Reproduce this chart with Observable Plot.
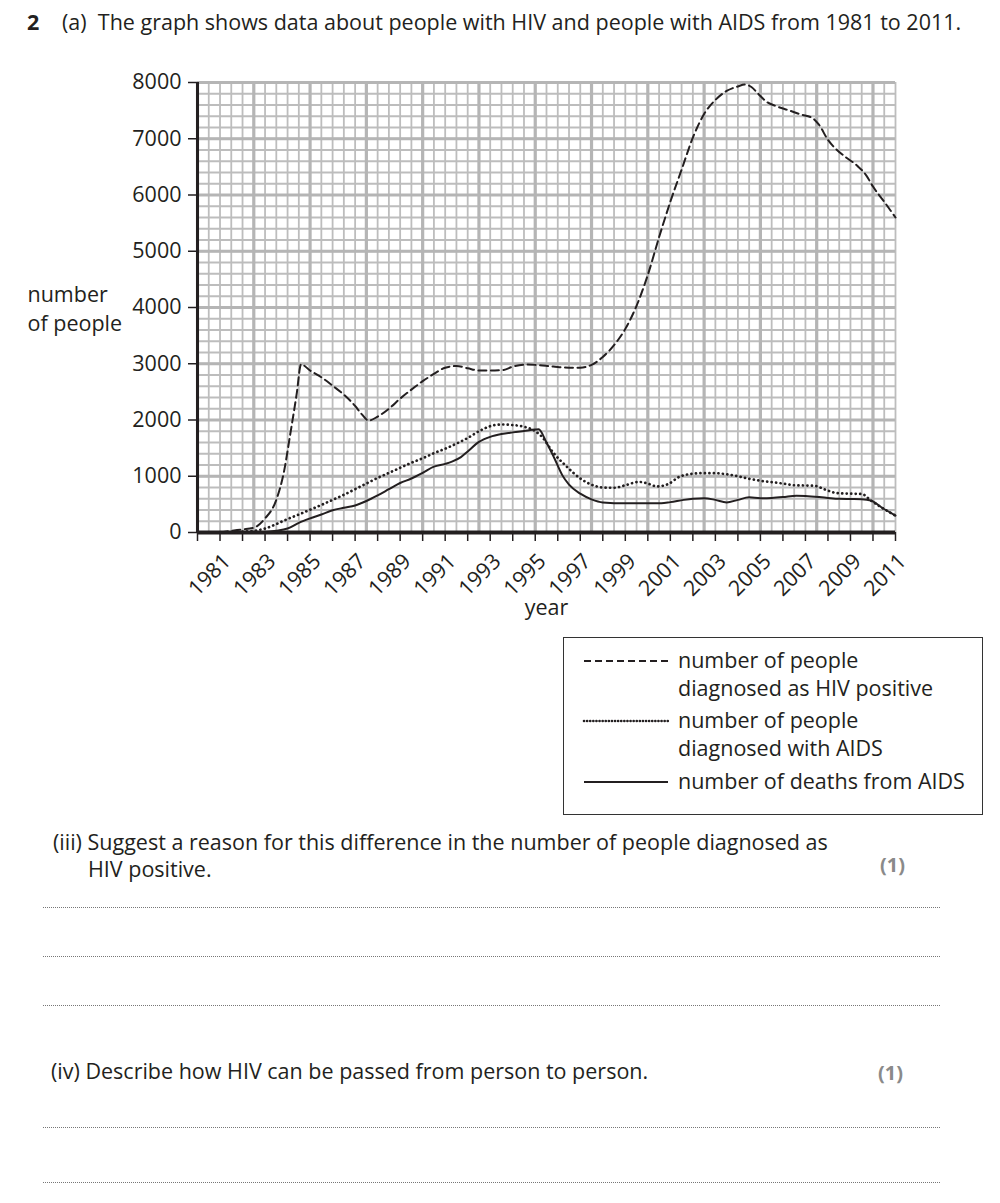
<!DOCTYPE html>
<html>
<head>
<meta charset="utf-8">
<script src="https://cdn.jsdelivr.net/npm/d3@7"></script>
<script src="https://cdn.jsdelivr.net/npm/@observablehq/plot@0.6"></script>
<style>
  html, body { margin: 0; padding: 0; background: #fff; }
  body { width: 1000px; height: 1203px; position: relative; overflow: hidden;
         font-family: "Open Sans", "Noto Sans", sans-serif; color: #231f20; }
  .abs { position: absolute; white-space: nowrap; font-size: 21.5px; line-height: 1; }
  #chart { position: absolute; left: 0; top: 0; }
  #legend { position: absolute; left: 563px; top: 637px; width: 418px; height: 176px;
            border: 1.5px solid #333; }
  .dots { position: absolute; height: 0; border-top: 1.5px dotted #777; }
  .mark { color: #8a8a8a; font-weight: bold; font-size: 20px; }
</style>
</head>
<body>
<div class="abs" style="left:27px; top:11px;"><b>2</b></div>
<div class="abs" style="left:62px; top:11px;">(a)&nbsp; The graph shows data about people with HIV and people with AIDS from 1981 to 2011.</div>
<div id="chart"></div>
<div id="legend"></div>

<div class="abs" style="left:53px; top:831px;">(iii) Suggest a reason for this difference in the number of people diagnosed as</div>
<div class="abs" style="left:88px; top:858px;">HIV positive.</div>
<div class="abs mark" style="left:880px; top:855px;">(1)</div>
<div class="dots" style="left:43px; width:897px; top:907px;"></div>
<div class="dots" style="left:43px; width:897px; top:956px;"></div>
<div class="dots" style="left:43px; width:897px; top:1005px;"></div>
<div class="abs" style="left:51px; top:1060px;">(iv) Describe how HIV can be passed from person to person.</div>
<div class="abs mark" style="left:878px; top:1063px;">(1)</div>
<div class="dots" style="left:43px; width:897px; top:1127px;"></div>
<div class="dots" style="left:43px; width:897px; top:1182px;"></div>

<script>
// ---------- data ----------
const hivYear = [1981,1981.5,1982,1982.5,1983,1983.5,1983.85,1984.1,1984.4,1984.6,1985,1985.5,1986,1986.5,1987,1987.3,1987.6,1988,1988.5,1989,1989.5,1990,1990.5,1991,1991.5,1992,1992.5,1993,1993.6,1994,1994.6,1995,1995.8,1996.5,1997,1997.5,1998,1998.5,1999,1999.5,2000,2000.5,2001,2001.5,2002,2002.5,2003,2003.5,2004,2004.3,2004.6,2004.9,2005.3,2005.7,2006.3,2006.8,2007.3,2007.6,2008,2008.4,2008.8,2009.3,2009.7,2010,2010.5,2011];
const hivValue = [0,30,55,85,250,580,1100,1700,2450,2990,2880,2760,2610,2450,2250,2100,1990,2060,2200,2380,2540,2690,2820,2930,2960,2920,2880,2880,2890,2950,2985,2980,2950,2930,2930,2980,3120,3330,3620,4030,4580,5250,5880,6450,7020,7440,7690,7850,7930,7965,7920,7800,7650,7580,7500,7430,7370,7250,6980,6800,6670,6520,6350,6150,5880,5600];

const aidsYear = [1981,1982,1982.5,1983,1983.5,1984,1984.5,1985,1985.5,1986,1986.5,1987,1987.5,1988,1988.5,1989,1989.5,1990,1990.5,1991,1991.5,1992,1992.5,1993,1993.5,1994,1994.5,1995,1995.3,1995.8,1996.4,1997,1997.5,1998,1998.5,1999,1999.6,2000,2000.4,2000.9,2001.4,2001.9,2002.5,2003,2003.5,2004,2004.5,2005,2005.5,2006,2006.5,2007,2007.4,2007.9,2008.4,2009,2009.5,2009.9,2010.4,2011];
const aidsValue = [0,15,30,70,150,240,320,405,490,580,670,770,870,970,1060,1150,1240,1320,1410,1490,1580,1680,1800,1890,1920,1910,1880,1800,1700,1420,1170,960,850,800,795,840,900,870,820,860,990,1040,1055,1055,1035,1000,955,920,895,870,840,835,830,760,700,690,685,570,440,300];

const deathYear = [1981,1982,1983,1983.5,1984,1984.5,1985,1985.5,1986,1986.5,1987,1987.5,1988,1988.5,1989,1989.5,1990,1990.5,1991,1991.3,1991.7,1992,1992.5,1993,1993.5,1994,1994.5,1995,1995.15,1995.5,1995.85,1996.2,1996.5,1997,1997.5,1998,1999,2000,2000.6,2001,2001.6,2002,2002.5,2003,2003.5,2004,2004.5,2005,2005.5,2006,2006.6,2007,2008,2008.5,2009,2009.5,2009.9,2010.4,2011];
const deathValue = [0,5,10,30,70,170,250,320,395,440,480,560,660,770,880,960,1060,1170,1220,1260,1340,1440,1610,1700,1750,1780,1805,1830,1835,1600,1320,1020,850,690,590,535,520,520,520,540,580,600,610,580,535,580,625,610,615,630,655,650,615,600,595,590,570,440,300];

const yTicks = [0,1000,2000,3000,4000,5000,6000,7000,8000];
const xTickYears = d3.range(1980, 2012, 1);
const xLabelYears = [1981,1983,1985,1987,1989,1991,1993,1995,1997,1999,2001,2003,2005,2007,2009,2011];

const seriesNames = ["number of people diagnosed as HIV positive", "number of people diagnosed with AIDS", "number of deaths from AIDS"];

// ---------- build tables ----------
const hiv = hivYear.map((x, i) => ({x, y: hivValue[i]}));
const aids = aidsYear.map((x, i) => ({x, y: aidsValue[i]}));
const deaths = deathYear.map((x, i) => ({x, y: deathValue[i]}));

const minorX = d3.range(1980, 2011.01, 0.5);
const majorX = d3.range(1980, 2011.01, 2.5);
const minorY = d3.range(0, 8001, 200);
const majorY = d3.range(0, 8001, 1000);

const gridMinor = "#bdbdbd";
const gridMajor = "#b5b5b5";
const ink = "#231f20";
const font = '"Open Sans", "Noto Sans", sans-serif';

const chart = Plot.plot({
  width: 1000,
  height: 640,
  marginLeft: 197,
  marginRight: 105,
  marginTop: 82,
  marginBottom: 108,
  style: {fontFamily: font, fontSize: "21px", color: ink, background: "transparent", overflow: "visible"},
  x: {domain: [1980, 2011]},
  y: {domain: [0, 8000]},
  marks: [
    Plot.ruleX(minorX, {stroke: gridMinor, strokeWidth: 1.8}),
    Plot.ruleY(minorY, {stroke: gridMinor, strokeWidth: 1.8}),
    Plot.ruleX(majorX, {stroke: gridMajor, strokeWidth: 3.2}),
    Plot.ruleY(majorY, {stroke: gridMajor, strokeWidth: 3.2}),
    Plot.axisY({ticks: yTicks, tickSize: 9, tickPadding: 7, fontSize: 21.5, stroke: ink, strokeWidth: 1.5, label: null, tickFormat: d => String(d)}),
    Plot.axisX({ticks: xTickYears, tickSize: 9, tickFormat: () => "", stroke: ink, strokeWidth: 1.5, label: null}),
    Plot.text(xLabelYears, {x: d => d, frameAnchor: "bottom", text: d => String(d), rotate: -45, textAnchor: "end", lineAnchor: "bottom", dx: 12, dy: 30, fontSize: 21.5, fill: ink}),
    Plot.text(["year"], {frameAnchor: "bottom", x: [1995.5], text: d => d, dy: 82, fontSize: 21.5, fill: ink, lineAnchor: "bottom"}),
    Plot.text(["number\nof people"], {frameAnchor: "left", y: [4000], text: d => d, dx: -170, textAnchor: "start", lineHeight: 1.35, fontSize: 21.5, fill: ink}),
    Plot.ruleX([1980], {stroke: ink, strokeWidth: 3}),
    Plot.ruleY([0], {stroke: ink, strokeWidth: 4}),
    Plot.line(hiv, {x: "x", y: "y", curve: "monotone-x", stroke: ink, strokeWidth: 2, strokeDasharray: "8,4.5"}),
    Plot.line(aids, {x: "x", y: "y", curve: "monotone-x", stroke: ink, strokeWidth: 2.7, strokeDasharray: "0.1,4.4", strokeLinecap: "round"}),
    Plot.line(deaths, {x: "x", y: "y", curve: "monotone-x", stroke: ink, strokeWidth: 2})
  ]
});
document.getElementById("chart").appendChild(chart);

// ---------- legend ----------
const legend = document.getElementById("legend");
const lg = d3.select(legend).append("svg").attr("width", 418).attr("height", 176)
  .style("font-family", font).style("font-size", "21.5px");
const rows = [
  {y: 23, dash: "7,4", w: 1.8, cap: "butt", lines: ["number of people", "diagnosed as HIV positive"]},
  {y: 83, dash: "0.1,3", w: 2.6, cap: "round", lines: ["number of people", "diagnosed with AIDS"]},
  {y: 144, dash: null, w: 2, cap: "butt", lines: [seriesNames[2]]}
];
rows.forEach(r => {
  const l = lg.append("line").attr("x1", 20).attr("x2", 104).attr("y1", r.y).attr("y2", r.y)
    .attr("stroke", ink).attr("stroke-width", r.w).attr("stroke-linecap", r.cap);
  if (r.dash) l.attr("stroke-dasharray", r.dash);
  r.lines.forEach((t, i) => lg.append("text").attr("x", 114).attr("y", r.y + 7 + i * 28).attr("fill", ink).text(t));
});
</script>
</body>
</html>
